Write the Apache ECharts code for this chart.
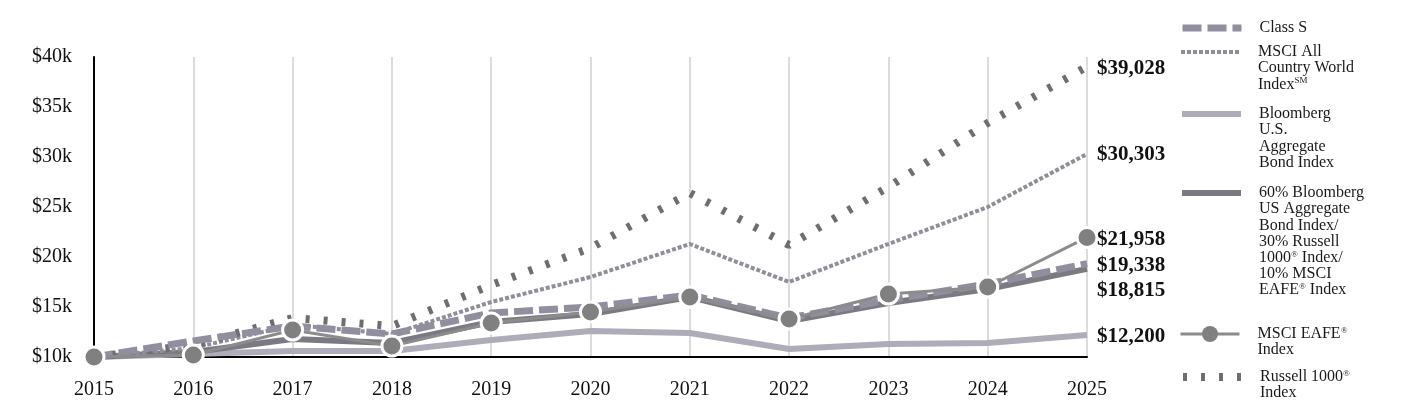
<!DOCTYPE html>
<html>
<head>
<meta charset="utf-8">
<script src="https://cdn.jsdelivr.net/npm/echarts@6/dist/echarts.min.js"></script>
<style>
html,body{margin:0;padding:0;background:#fff;}
#chart{width:1404px;height:420px;}
</style>
</head>
<body>
<div id="chart"></div>
<script>
var years = ['2015','2016','2017','2018','2019','2020','2021','2022','2023','2024','2025'];
var classS  = [10000, 11600, 13100, 12300, 14400, 15000, 16200, 13900, 15700, 17300, 19338];
var acwi    = [10000, 10900, 13200, 12300, 15500, 18000, 21300, 17500, 21300, 25000, 30303];
var agg     = [10000, 10300, 10600, 10600, 11700, 12600, 12400, 10800, 11300, 11400, 12200];
var blend   = [10000, 10500, 11800, 11400, 13500, 14300, 16000, 13600, 15400, 16800, 18815];
var eafe    = [10000, 10200, 12700, 11100, 13400, 14500, 16000, 13800, 16300, 17000, 21958];
var russell = [10000, 11200, 13900, 13100, 17200, 20900, 26400, 21200, 27000, 33400, 39028];
var yTicks = [10000, 15000, 20000, 25000, 30000, 35000, 40000];

var names = {
  classS: 'Class S',
  acwi: 'MSCI All Country World Index',
  agg: 'Bloomberg U.S. Aggregate Bond Index',
  blend: '60% Bloomberg US Aggregate Bond Index/30% Russell 1000 Index/10% MSCI EAFE Index',
  eafe: 'MSCI EAFE Index',
  russell: 'Russell 1000 Index'
};
var legendText = {};
legendText[names.classS] = 'Class S';
legendText[names.acwi] = 'MSCI All\nCountry World\nIndex{s|SM}';
legendText[names.agg] = 'Bloomberg\nU.S.\nAggregate\nBond Index';
legendText[names.blend] = '60% Bloomberg\nUS Aggregate\nBond Index/\n30% Russell\n1000{s|®} Index/\n10% MSCI\nEAFE{s|®} Index';
legendText[names.eafe] = 'MSCI EAFE{s|®}\nIndex';
legendText[names.russell] = 'Russell 1000{s|®}\nIndex';

var FONT = '"Liberation Serif", "Times New Roman", serif';
var LH = 16.2;

function fmtMoney(v){ return '$' + v.toLocaleString('en-US'); }

function mkLegend(name, nLines, iconCenter, lineW, itemH, showSym){
  var pad = (nLines - 1) * LH;
  var boxH = nLines * LH + pad;
  var h = Math.max(itemH, boxH);
  return {
    orient: 'vertical',
    left: 1179,
    top: iconCenter - h / 2,
    padding: 0,
    itemWidth: 59,
    itemHeight: itemH,
    selectedMode: false,
    lineStyle: { width: lineW },
    data: [{
      name: name,
      itemStyle: showSym ? { borderWidth: 0, color: '#808080' } : { opacity: 0 },
      textStyle: { padding: [pad, 0, 0, 13] }
    }],
    formatter: function(n){ return legendText[n]; },
    textStyle: {
      fontFamily: FONT, fontSize: 16, lineHeight: LH, color: '#1a1a1a',
      rich: { s: { fontFamily: FONT, fontSize: 9, verticalAlign: 'top', color: '#1a1a1a', lineHeight: LH } }
    }
  };
}

function endLabel(offset){
  return {
    show: true,
    distance: 10,
    offset: offset || [0, 2],
    formatter: function(p){ return fmtMoney(p.value); },
    fontFamily: FONT, fontSize: 21, fontWeight: 'bold', color: '#111'
  };
}

var chart = echarts.init(document.getElementById('chart'), null, {renderer: 'canvas'});
chart.setOption({
  animation: false,
  backgroundColor: '#fff',
  grid: { left: 94, right: 317, top: 57, bottom: 63, containLabel: false },
  legend: [
    mkLegend(names.classS, 1, 28, 7, 14, false),
    mkLegend(names.acwi, 3, 52, 4, 14, false),
    mkLegend(names.agg, 4, 114, 6, 14, false),
    mkLegend(names.blend, 7, 193, 6, 14, false),
    mkLegend(names.eafe, 2, 334, 3, 20, true),
    mkLegend(names.russell, 2, 377, 8, 14, false)
  ],
  xAxis: {
    type: 'category',
    data: years,
    boundaryGap: false,
    axisLine: { show: true, lineStyle: { color: '#000', width: 2 } },
    axisTick: { show: false },
    axisLabel: { fontFamily: FONT, fontSize: 20, color: '#111', margin: 23 },
    splitLine: { show: true, lineStyle: { color: '#dcdcdc', width: 2 } }
  },
  yAxis: {
    type: 'value',
    min: 10000, max: 40000, interval: 5000,
    axisLine: { show: true, lineStyle: { color: '#000', width: 2 } },
    axisTick: { show: false },
    splitLine: { show: false },
    axisLabel: {
      fontFamily: FONT, fontSize: 20, color: '#111', margin: 22,
      formatter: function(v){ return yTicks.indexOf(v) >= 0 ? '$' + (v/1000) + 'k' : ''; }
    }
  },
  series: [
    { name: names.agg, type: 'line', data: agg, symbol: 'none',
      lineStyle: { color: '#adacb9', width: 6 }, itemStyle: { color: '#adacb9' },
      endLabel: endLabel() },
    { name: names.blend, type: 'line', data: blend, symbol: 'none',
      lineStyle: { color: '#7b7a82', width: 6 }, itemStyle: { color: '#7b7a82' },
      endLabel: endLabel([0, 22]) },
    { name: names.acwi, type: 'line', data: acwi, symbol: 'none',
      lineStyle: { color: '#908f99', width: 4, type: [4, 2] }, itemStyle: { color: '#908f99' },
      endLabel: endLabel([0, 1]) },
    { name: names.russell, type: 'line', data: russell, symbol: 'none',
      lineStyle: { color: '#6e6e72', width: 8, type: [4, 14], cap: 'butt' }, itemStyle: { color: '#6e6e72' },
      endLabel: endLabel() },
    { name: names.classS, type: 'line', data: classS, symbol: 'none',
      lineStyle: { color: '#908e9f', width: 7, type: [19, 6] }, itemStyle: { color: '#908e9f' },
      endLabel: endLabel() },
    { name: names.eafe, type: 'line', data: eafe, symbol: 'circle', symbolSize: 20, showSymbol: true,
      lineStyle: { color: '#8c8c8c', width: 3 },
      itemStyle: { color: '#808080', borderColor: '#fff', borderWidth: 3 },
      endLabel: endLabel() }
  ]
});
</script>
</body>
</html>
